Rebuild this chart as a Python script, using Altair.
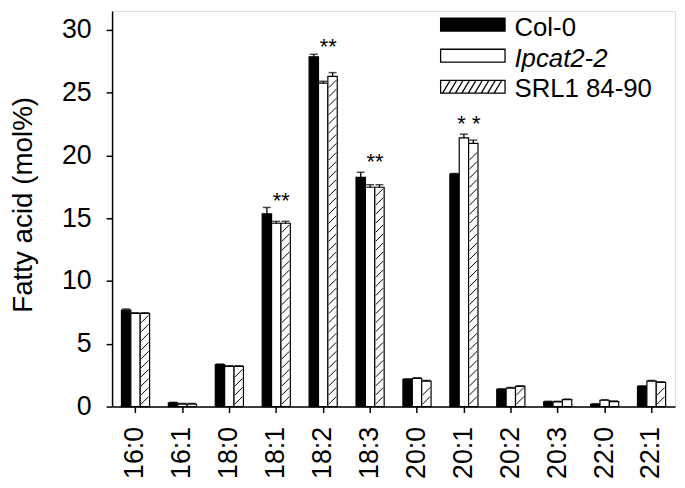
import altair as alt
import pandas as pd

categories = ["16:0", "16:1", "18:0", "18:1", "18:2", "18:3",
              "20:0", "20:1", "20:2", "20:3", "22:0", "22:1"]
series = ["Col-0", "Ipcat2-2", "SRL1 84-90"]

col0 = [7.68, 0.29, 3.34, 15.36, 27.86, 18.26, 2.16, 18.52, 1.37, 0.37, 0.18, 1.60]
ipcat = [7.42, 0.20, 3.20, 14.60, 25.76, 17.47, 2.24, 21.40, 1.47, 0.37, 0.50, 2.03]
srl1 = [7.42, 0.20, 3.20, 14.60, 26.30, 17.47, 2.03, 20.97, 1.60, 0.55, 0.40, 1.92]

col0_err = [0.10, 0.05, 0.05, 0.50, 0.20, 0.40, 0.05, 0.05, 0.05, 0.05, 0.05, 0.05]
ipcat_err = [0.05, 0.05, 0.05, 0.15, 0.15, 0.20, 0.05, 0.30, 0.05, 0.05, 0.05, 0.05]
srl1_err = [0.05, 0.05, 0.05, 0.15, 0.30, 0.20, 0.05, 0.25, 0.05, 0.05, 0.05, 0.05]

star_cats = ["18:1", "18:2", "18:3", "20:1"]
star_text = ["**", "**", "**", "* *"]
star_y = [15.8, 28.05, 18.9, 21.97]

y_ticks = [0, 5, 10, 15, 20, 25, 30]
FONT = "Liberation Sans"

rows = []
for s, vals, errs in [(series[0], col0, col0_err), (series[1], ipcat, ipcat_err), (series[2], srl1, srl1_err)]:
    for c, v, e in zip(categories, vals, errs):
        rows.append({"category": c, "series": s, "value": v, "top": v + e})
df = pd.DataFrame(rows)

# hatch stripes for the hatched series
hatch_rows = []
for c, v in zip(categories, srl1):
    h = 0.5
    while h + 0.35 <= v:
        hatch_rows.append({"category": c, "series": series[2], "h": h})
        h += 0.72
hatch_df = pd.DataFrame(hatch_rows)

stars_df = pd.DataFrame({"category": star_cats, "txt": star_text, "y": star_y})
legend_df = pd.DataFrame({"series": series})

yscale = alt.Scale(domain=[0, 31.5], nice=False, zero=True)
xscale = alt.Scale(domain=categories, paddingInner=0, paddingOuter=0)
offscale = alt.Scale(domain=series, paddingInner=0, paddingOuter=1)
fillscale = alt.Scale(domain=series, range=["black", "white", "white"])

X = alt.X("category:N", scale=xscale, sort=categories,
          axis=alt.Axis(title=None, labelAngle=270, labelFontSize=27, labelFont=FONT,
                        labelColor="black", tickSize=6, tickColor="black", tickWidth=1.5,
                        domainColor="black", domainWidth=1.5, labelPadding=14, grid=False))
XO = alt.XOffset("series:N", scale=offscale, sort=series)

bars = alt.Chart(df).mark_bar(stroke="black", strokeWidth=1.2).encode(
    x=X, xOffset=XO,
    y=alt.Y("value:Q", scale=yscale,
            axis=alt.Axis(values=y_ticks, title="Fatty acid (mol%)", titleFontSize=28,
                          titleFont=FONT, titleFontWeight="normal", titleColor="black",
                          titleX=-75, titleY=195, labelFontSize=27, labelFont=FONT,
                          labelColor="black", tickSize=6, tickColor="black", tickWidth=1.5,
                          domainColor="black", domainWidth=1.5, labelPadding=15, grid=False)),
    fill=alt.Fill("series:N", scale=fillscale, legend=None),
)

err = alt.Chart(df).mark_rule(color="black", strokeWidth=1.3).encode(
    x=X, xOffset=XO, y=alt.Y("value:Q", scale=yscale), y2="top:Q")

caps = alt.Chart(df).mark_tick(color="black", orient="horizontal", size=8, thickness=1.5).encode(
    x=X, xOffset=XO, y=alt.Y("top:Q", scale=yscale))

hatch = alt.Chart(hatch_df).mark_point(shape="M-1,1L1,-1", size=56, filled=False,
                                       stroke="black", strokeWidth=1, opacity=1).encode(
    x=X, xOffset=XO, y=alt.Y("h:Q", scale=yscale))

stars = alt.Chart(stars_df).mark_text(font=FONT, fontSize=22, baseline="alphabetic",
                                      dx=5, color="black").encode(
    x=X, y=alt.Y("y:Q", scale=yscale), text="txt:N")

main = alt.layer(bars, err, caps, hatch, stars)

rect_path = "M-5,-1H5V1H-5Z"
hatch_path = rect_path + "".join(
    f"M{x:.1f},1L{x + 1.2:.1f},-1" for x in [-4.7 + i * 1.0 for i in range(9)])

sym = alt.Chart(legend_df).mark_point(size=169, filled=True, stroke="black",
                                      strokeWidth=1.3, opacity=1).encode(
    x=alt.value(364),
    y=alt.Y("series:N", scale=alt.Scale(domain=series, range=[13.7, 76.3], padding=0), axis=None),
    shape=alt.Shape("series:N", scale=alt.Scale(domain=series, range=[rect_path, rect_path, hatch_path]),
                    legend=None),
    fill=alt.Fill("series:N", scale=fillscale, legend=None),
)

LY = alt.Y("series:N", scale=alt.Scale(domain=series, range=[25.3, 87], padding=0), axis=None)
txt_norm = alt.Chart(legend_df).transform_filter(alt.datum.series != series[1]).mark_text(
    font=FONT, fontSize=26, align="left", baseline="alphabetic", color="black").encode(
    x=alt.value(406), y=LY, text="series:N")
txt_it = alt.Chart(legend_df).transform_filter(alt.datum.series == series[1]).mark_text(
    font=FONT, fontSize=26, align="left", baseline="alphabetic", color="black",
    fontStyle="italic").encode(
    x=alt.value(406), y=LY, text="series:N")

legend = alt.layer(sym, txt_norm, txt_it).resolve_scale(y="independent")

chart = alt.layer(main, legend).resolve_scale(y="independent").properties(
    width=568, height=399,
    autosize=alt.AutoSizeParams(type="none"),
    padding={"left": 105, "top": 1, "right": 2, "bottom": 75},
).configure_view(stroke="black", strokeWidth=1.5).configure(background="white")

chart.save("out.html", embed_options={"renderer": "svg", "actions": False})
